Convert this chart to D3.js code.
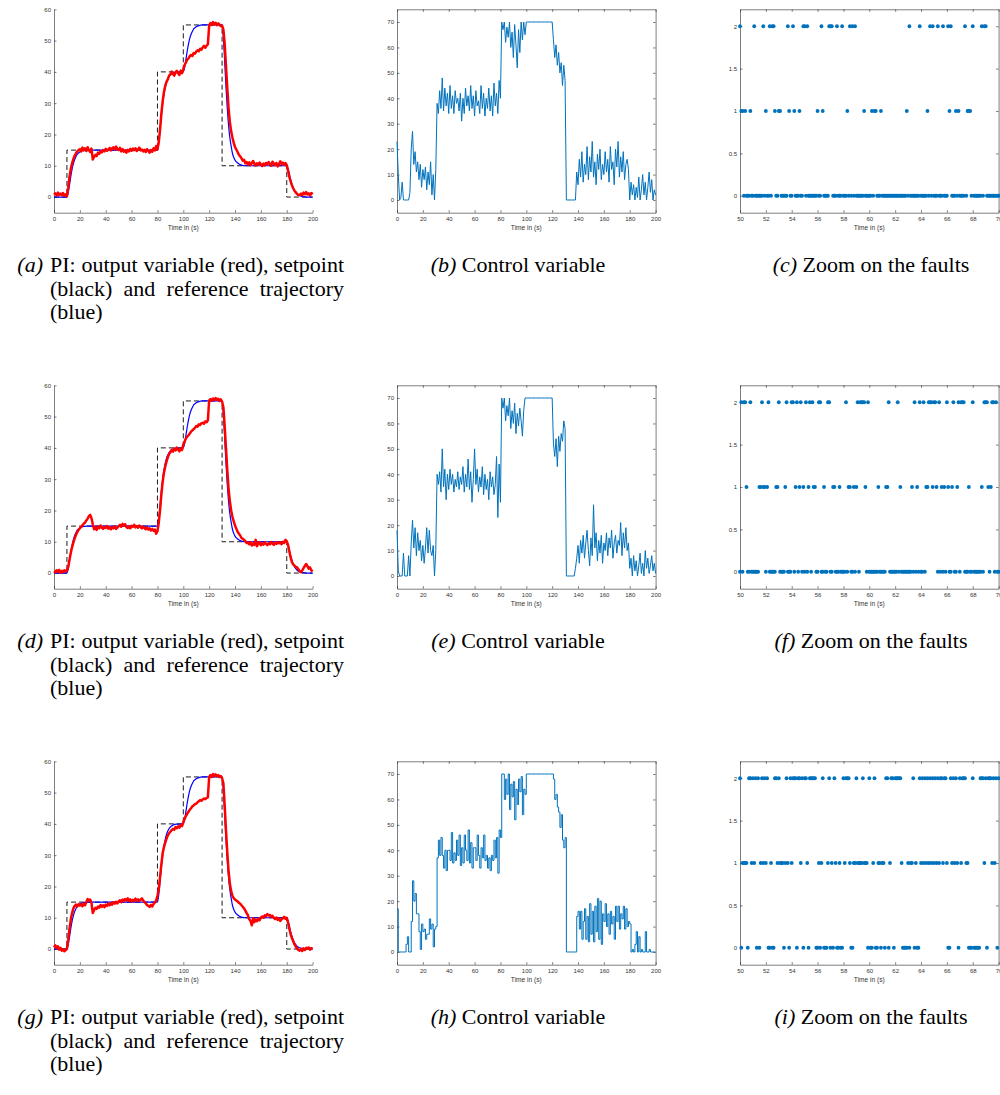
<!DOCTYPE html>
<html>
<head>
<meta charset="utf-8">
<script src="https://cdn.jsdelivr.net/npm/d3@7"></script>
<style>
  body { margin: 0; background: #fff; }
  svg { display: block; }
  .tick text { font-family: "Liberation Sans", Arial, sans-serif; font-size: 6px; fill: #333; }
  .tick line, .domain { stroke: #262626; stroke-width: 0.6; }
</style>
</head>
<body>
<div id="container"></div>
<script>
// setpoint (black dashed), held from each time to the next
const setpointTimes = [0, 10, 80, 100, 130, 180, 200];
const setpointValues = [0, 15, 40, 55, 10, 0, 0];

// reference trajectory (blue)
const refTimes = [0, 10, 11, 12, 13, 14, 15, 16, 17, 18, 19, 20, 22, 25, 80,
  81, 82, 83, 84, 85, 86, 87, 88, 89, 90, 92, 95, 100,
  101, 102, 103, 104, 105, 106, 107, 108, 109, 110, 112, 115, 130,
  131, 132, 133, 134, 135, 136, 137, 138, 139, 140, 142, 145, 148, 180,
  181, 182, 183, 184, 185, 186, 187, 188, 189, 190, 192, 195, 200];
const refValues = [0, 0, 1.4, 3.9, 6.6, 8.9, 10.7, 12.0, 12.9, 13.7, 14.1, 14.4, 14.8, 15, 15,
  17.3, 21.5, 26, 29.8, 32.8, 35, 36.6, 37.7, 38.5, 39, 39.6, 39.9, 40,
  41.4, 43.9, 46.6, 48.9, 50.7, 52, 52.9, 53.7, 54.1, 54.4, 54.8, 55, 55,
  51, 43.3, 35.2, 28.5, 23, 19, 16.3, 14, 12.7, 11.8, 10.9, 10.2, 10, 10,
  9.1, 7.4, 5.6, 4.1, 2.9, 2, 1.4, 0.9, 0.6, 0.4, 0.2, 0, 0];

// output variable (red), one sample per second, t = 0..200
const outputA = [
  0.8, 1.2, 0.5, 1.4, 0.7, 1.1, 0.6, 1.3, 0.4, 0.9,
  0.3, 3.0, 6.5, 9.0, 10.8, 12.2, 13.2, 14.0, 14.6, 15.0,
  15.3, 14.6, 15.8, 14.9, 15.6, 14.7, 15.9, 15.0, 14.4, 15.5,
  12.0, 12.8, 13.5, 13.1, 14.2, 13.8, 14.6, 14.3, 15.0, 14.6,
  15.4, 14.8, 15.2, 15.7, 14.9, 15.6, 15.9, 15.2, 16.1, 15.4,
  15.0, 15.7, 14.6, 15.3, 14.5, 14.9, 14.2, 15.1, 14.6, 15.4,
  14.8, 15.5, 15.0, 15.6, 14.7, 15.3, 15.8, 14.9, 15.2, 14.6,
  15.1, 14.4, 15.3, 14.7, 14.2, 15.0, 14.5, 15.6, 14.9, 16.3,
  15.2, 17.5, 21.5, 26.5, 30.5, 33.5, 35.5, 36.8, 37.6, 38.8,
  39.2, 40.1, 39.4, 38.8, 39.9, 40.3, 39.5, 39.0, 40.4, 39.6,
  40.8, 42.2, 43.0, 43.9, 44.3, 45.0, 45.4, 45.1, 46.0, 45.8,
  46.5, 46.9, 46.6, 47.4, 47.1, 47.8, 48.3, 47.7, 48.4, 48.8,
  54.8, 55.6, 55.0, 55.9, 55.2, 55.7, 54.9, 55.5, 55.1, 54.6,
  54.8, 53.5, 49.0, 42.0, 35.0, 28.5, 24.0, 21.0, 19.0, 17.3,
  16.0, 15.2, 14.4, 13.5, 13.0, 12.4, 11.6, 11.9, 10.8, 11.2,
  10.4, 11.1, 10.2, 10.9, 11.5, 10.6, 10.1, 10.8, 10.3, 11.0,
  10.5, 9.9, 10.7, 10.2, 10.9, 10.4, 11.2, 10.6, 10.0, 11.3,
  10.7, 10.2, 10.9, 9.8, 10.5, 11.4, 10.6, 11.0, 10.3, 10.9,
  10.2, 8.5, 6.5, 5.0, 3.8, 2.8, 2.0, 1.5, 1.0, 0.6,
  0.7, 1.1, 0.6, 1.4, 0.9, 1.6, 0.8, 1.2, 0.5, 1.3,
  0.9];
const outputD = [
  0.6, 0.2, 0.9, 0.4, 1.0, 0.1, 0.7, 0.3, 0.9, 0.5,
  0.8, 2.0, 4.3, 6.5, 8.3, 9.8, 11.1, 12.2, 13.1, 13.8,
  14.3, 14.8, 15.2, 15.8, 16.1, 16.8, 17.4, 18.2, 18.6, 17.5,
  15.6, 14.0, 14.6, 13.8, 14.9, 14.3, 15.2, 14.5, 14.1, 14.8,
  14.4, 15.0, 14.2, 14.7, 14.0, 14.6, 14.3, 14.9, 14.1, 14.5,
  15.0, 15.4, 14.8, 15.7, 15.2, 15.6, 14.7, 14.4, 14.9, 14.3,
  15.1, 14.8, 15.4, 14.6, 15.0, 14.5, 15.2, 14.7, 14.3, 14.9,
  14.4, 14.0, 14.6, 13.9, 14.3, 13.6, 14.1, 13.5, 13.9, 12.6,
  13.4, 16.0, 20.0, 25.0, 29.0, 32.0, 34.0, 35.6, 37.0, 38.0,
  38.6, 39.4, 38.8, 39.8, 39.2, 40.1, 39.4, 38.9, 39.8, 39.3,
  41.0, 42.0, 43.0, 43.6, 44.0, 44.6, 45.2, 45.6, 46.0, 46.4,
  47.0, 46.8, 47.5, 47.3, 47.9, 48.0, 47.7, 48.5, 48.2, 48.8,
  55.2, 55.6, 55.1, 55.8, 55.3, 55.9, 55.4, 55.7, 55.0, 55.5,
  54.8, 53.0, 47.0, 40.0, 33.0, 27.0, 23.0, 20.0, 18.0, 16.5,
  15.2, 14.2, 13.2, 12.6, 12.0, 11.2, 11.0, 10.6, 10.2, 9.6,
  9.8, 9.2, 9.8, 8.8, 9.5, 9.0, 10.6, 8.6, 9.4, 9.9,
  8.9, 9.5, 9.1, 9.8, 9.3, 8.9, 9.6, 9.2, 9.9, 9.4,
  9.0, 9.7, 9.3, 9.9, 9.5, 9.8, 9.2, 10.0, 9.6, 10.6,
  10.2, 9.0, 7.0, 5.0, 3.5, 2.8, 2.4, 2.0, 1.8, 1.2,
  0.6, 0.3, 0.8, 1.6, 2.3, 2.9, 2.2, 1.4, 1.8, 0.9,
  0.5];
const outputG = [
  0.5, 1.2, 0.3, 0.9, -0.2, 0.4, -0.5, -0.1, -0.7, -0.3,
  0.1, 3.0, 6.5, 9.5, 11.5, 13.0, 13.8, 14.2, 13.6, 14.4,
  13.9, 14.3, 13.7, 14.5, 14.0, 15.0, 16.0, 15.5, 15.8, 14.7,
  11.5, 12.5, 13.2, 12.8, 13.6, 13.2, 14.1, 13.5, 14.0, 13.4,
  14.2, 13.8, 14.5, 14.0, 14.7, 14.2, 14.9, 14.5, 15.1, 14.6,
  15.2, 15.6, 15.0, 15.8, 15.3, 16.0, 15.5, 16.2, 15.4, 15.9,
  15.2, 15.7, 15.3, 16.1, 15.5, 15.9, 15.4, 15.8, 16.2, 15.5,
  15.0, 14.6, 14.0, 13.8, 13.5, 14.1, 13.6, 14.4, 14.9, 15.5,
  17.0, 19.0, 23.0, 27.0, 30.5, 32.5, 34.0, 35.2, 36.3, 37.0,
  37.5, 38.0, 38.4, 38.1, 39.0, 38.6, 39.2, 38.8, 39.6, 39.3,
  40.5, 41.6, 42.5, 43.2, 43.9, 44.5, 45.0, 45.6, 45.9, 46.3,
  46.5, 46.9, 47.2, 47.6, 47.4, 47.8, 48.1, 47.9, 48.3, 48.5,
  55.0, 55.6, 55.0, 55.9, 55.4, 55.8, 55.2, 55.6, 55.0, 55.3,
  54.6, 53.0, 46.0, 38.0, 31.0, 25.0, 21.0, 18.5, 17.0, 16.3,
  15.8, 15.5, 15.2, 14.8, 14.5, 14.0, 13.5, 13.0, 12.3, 11.5,
  10.8, 9.5, 9.0, 7.6, 9.8, 8.6, 9.4, 8.9, 9.7, 9.2,
  10.1, 10.4, 10.0, 10.8, 10.5, 11.2, 10.7, 10.9, 10.3, 10.6,
  10.0, 9.6, 10.1, 9.3, 9.8, 9.0, 9.5, 9.9, 10.3, 9.7,
  10.0, 8.5, 6.5, 4.8, 3.5, 2.5, 1.5, 0.8, 0.2, -0.3,
  -0.5, 0.0, -0.6, 0.2, -0.3, 0.4, 0.1, 0.5, -0.2, 0.3,
  0.2];

// control variable, one sample per second, t = 0..200
const controlB = [
  23, 10, 0, 1, 7, 0, 0, 0, 0, 0,
  3, 20, 27, 14, 19, 11, 15, 8, 14, 5,
  12, 8, 13, 4, 11, 6, 15, 2, 10, 0,
  12, 38, 34, 43, 36, 48, 35, 44, 37, 42,
  34, 45, 36, 41, 34, 43, 38, 40, 35, 42,
  31, 40, 34, 44, 37, 41, 35, 45, 36, 41,
  33, 43, 37, 39, 34, 45, 36, 42, 33, 40,
  36, 44, 35, 41, 33, 46, 37, 42, 34, 47,
  40, 70, 67, 70, 62, 68, 64, 70, 60, 66,
  56, 69, 61, 52, 67, 58, 70, 63, 70, 65,
  70, 70, 70, 70, 70, 70, 70, 70, 70, 70,
  70, 70, 70, 70, 70, 70, 70, 70, 70, 70,
  70, 63, 56, 61, 53, 58, 50, 54, 45, 53,
  47, 0, 0, 0, 0, 0, 0, 0, 0, 11,
  6, 16, 9, 19, 7, 14, 10, 21, 8, 17,
  11, 23, 9, 15, 6, 18, 12, 20, 8, 14,
  10, 19, 11, 16, 7, 21, 12, 15, 6, 20,
  13, 23, 9, 17, 11, 19, 8, 14, 16, 12,
  0, 7, 2, 6, 0, 5, 1, 9, 0, 4,
  10, 2, 7, 0, 5, 11, 3, 8, 0, 4,
  2];
const controlE = [
  18, 2, 0, 0, 0, 9, 0, 0, 0, 8,
  0, 13, 22, 11, 19, 8, 17, 10, 14, 6,
  12, 5, 11, 19, 9, 18, 10, 8, 12, 0,
  10, 40, 36, 41, 33, 50, 35, 42, 30, 40,
  34, 42, 36, 40, 33, 38, 35, 41, 34, 39,
  36, 43, 33, 40, 35, 46, 34, 41, 29, 38,
  50, 36, 42, 33, 39, 35, 43, 32, 40, 34,
  38, 30, 41, 35, 39, 32, 36, 47, 23, 44,
  29, 70, 66, 70, 61, 67, 63, 70, 58, 65,
  60, 68, 56, 64, 59, 66, 61, 55, 65, 70,
  70, 70, 70, 70, 70, 70, 70, 70, 70, 70,
  70, 70, 70, 70, 70, 70, 70, 70, 70, 70,
  70, 52, 47, 54, 43, 55, 49, 56, 53, 61,
  58, 0, 0, 0, 0, 0, 0, 0, 3, 7,
  12, 5, 14, 9, 16, 7, 13, 18, 10, 4,
  15, 8, 28, 11, 17, 6, 14, 9, 16, 5,
  13, 10, 17, 8, 15, 11, 18, 7, 13, 16,
  9, 14, 12, 21, 8, 17, 11, 19, 10, 13,
  3, 7, 0, 8, 2, 6, 0, 4, 9, 1,
  5, 0, 10, 3, 7, 1, 4, 8, 2, 5,
  1];
const controlH = [
  17, 0, 0, 0, 0, 0, 0, 3, 6, 0,
  0, 12, 28, 20, 23, 15, 15, 8, 1, 11,
  8, 9, 5, 7, 7, 13, 9, 11, 2, 9,
  10, 37, 44, 38, 45, 38, 33, 40, 32, 40,
  40, 36, 47, 35, 39, 36, 44, 38, 46, 34,
  41, 35, 46, 40, 36, 48, 35, 43, 33, 41,
  41, 36, 46, 38, 33, 41, 37, 46, 36, 38,
  33, 37, 32, 38, 36, 44, 37, 45, 31, 48,
  45, 70, 70, 60, 68, 62, 70, 56, 66, 61,
  67, 52, 64, 58, 68, 63, 69, 54, 64, 62,
  70, 70, 70, 70, 70, 70, 70, 70, 70, 70,
  70, 70, 70, 70, 70, 70, 70, 70, 70, 70,
  70, 68, 60, 62, 57, 55, 49, 54, 44, 41,
  45, 0, 0, 0, 0, 0, 0, 0, 0, 14,
  16, 9, 16, 5, 12, 17, 5, 14, 4, 19,
  7, 16, 4, 18, 8, 21, 5, 20, 3, 15,
  12, 19, 10, 15, 7, 16, 11, 14, 5, 18,
  12, 18, 9, 15, 13, 18, 9, 17, 10, 12,
  11, 0, 1, 0, 3, 8, 0, 6, 0, 1,
  0, 0, 8, 0, 0, 1, 0, 0, 0, 0,
  0];

// fault state per 0.1 s sample, t = 50.0..70.0 (one digit per sample)
const faultsC = ["2110100010", "0200000020", "1002022100", "1100000210", "0210001002",
  "2020000000", "1002100002", "2200020002", "0001020202", "0000001000",
  "0010110001", "0000000000", "0000000001", "0200000002", "0000010202",
  "0002000200", "0212000101", "0000201110", "2000000202", "20000000000"].join("");
const faultsF = ["0202210020", "0000011211", "0120000011", "2000012000", "2201201201",
  "0201202110", "0220010022", "0011000100", "0020110010", "1202222102",
  "0000000100", "0001120000", "0020100000", "0001020102", "0020112221",
  "2210201010", "2100120012", "0222000100", "2000000102", "22101220200"].join("");
const faultsI = ["2011110221", "2120201212", "1200100221", "2111012102", "1222022120",
  "2210222220", "0101200012", "0102100100", "2122210011", "2111121110",
  "2001200110", "1102201220", "2222210000", "1011201002", "1212121212",
  "1212122122", "1002121210", "2122211000", "2000002221", "20222121202"].join("");

const outputTicks = [0, 10, 20, 30, 40, 50, 60];
const controlTicks = [0, 10, 20, 30, 40, 50, 60, 70];
const faultTicks = [0, 0.5, 1, 1.5, 2];
const timeTicks = [0, 20, 40, 60, 80, 100, 120, 140, 160, 180, 200];
const zoomTicks = [50, 52, 54, 56, 58, 60, 62, 64, 66, 68, 70];

const captionLines = ["PI: output variable (red), setpoint", "(black) and reference trajectory", "(blue)"];
const rows = [
  { output: outputA, control: controlB, stairs: false, faults: faultsC, letters: ["a", "b", "c"] },
  { output: outputD, control: controlE, stairs: false, faults: faultsF, letters: ["d", "e", "f"] },
  { output: outputG, control: controlH, stairs: true, faults: faultsI, letters: ["g", "h", "i"] },
];

const W = 1000, H = 1095;
const colX = [54, 397, 740];
const plotW = 258.6, plotH = 203.4;
const rowTop = 9.3, rowPitch = 376;
const sampleStep = 1, faultStart = 50, faultStep = 0.1;
const tickLen = 2.5;
const capFont = "Liberation Serif, Times New Roman, serif";
const capSize = "22px";

const svg = d3.select("#container").append("svg").attr("width", W).attr("height", H);

function axes(g, x, y, yTicks, xTicks, box, yFormat) {
  g.append("g")
    .attr("transform", "translate(0," + plotH + ")")
    .call(d3.axisBottom(x).tickValues(xTicks).tickSizeInner(-tickLen).tickSizeOuter(0).tickPadding(4.5));
  g.append("g")
    .call(d3.axisLeft(y).tickValues(yTicks).tickSizeInner(-tickLen).tickSizeOuter(0).tickPadding(3)
      .tickFormat(yFormat || d3.format("d")));
  if (box) {
    g.append("g")
      .call(d3.axisTop(x).tickValues(xTicks).tickSizeInner(-tickLen).tickSizeOuter(0).tickFormat(""));
    g.append("g")
      .attr("transform", "translate(" + plotW + ",0)")
      .call(d3.axisRight(y).tickValues(yTicks).tickSizeInner(-tickLen).tickSizeOuter(0).tickFormat(""));
  }
  g.append("text")
    .attr("x", plotW / 2)
    .attr("y", plotH + 17.5)
    .attr("text-anchor", "middle")
    .style("font-family", "Liberation Sans, Arial, sans-serif")
    .style("font-size", "6.6px")
    .style("fill", "#333")
    .text("Time in (s)");
}

function drawOutput(g, output) {
  const x = d3.scaleLinear().domain([0, 200]).range([0, plotW]);
  const y = d3.scaleLinear().domain([-5, 60]).range([plotH, 0]);
  axes(g, x, y, outputTicks, timeTicks, false);

  const sp = setpointTimes.map((t, i) => [t, setpointValues[i]]);
  g.append("path")
    .datum(sp)
    .attr("fill", "none")
    .attr("stroke", "#1a1a1a")
    .attr("stroke-width", 1)
    .attr("stroke-dasharray", "5,3")
    .attr("d", d3.line().x((d) => x(d[0])).y((d) => y(d[1])).curve(d3.curveStepAfter));

  const ref = refTimes.map((t, i) => [t, refValues[i]]);
  g.append("path")
    .datum(ref)
    .attr("fill", "none")
    .attr("stroke", "#0000ff")
    .attr("stroke-width", 1.2)
    .attr("d", d3.line().x((d) => x(d[0])).y((d) => y(d[1])).curve(d3.curveMonotoneX));

  g.append("path")
    .datum(output)
    .attr("fill", "none")
    .attr("stroke", "#ff0000")
    .attr("stroke-width", 2.5)
    .attr("stroke-linejoin", "round")
    .attr("d", d3.line().x((d, i) => x(i * sampleStep)).y((d) => y(d)));
}

function drawControl(g, control, stairs) {
  const x = d3.scaleLinear().domain([0, 200]).range([0, plotW]);
  const y = d3.scaleLinear().domain([-5, 75]).range([plotH, 0]);
  axes(g, x, y, controlTicks, timeTicks, true);
  g.append("path")
    .datum(control)
    .attr("fill", "none")
    .attr("stroke", "#0072bd")
    .attr("stroke-width", 1)
    .attr("d", d3.line().x((d, i) => x(i * sampleStep)).y((d) => y(d))
      .curve(stairs ? d3.curveStepAfter : d3.curveLinear));
}

function drawFaults(g, faults) {
  const x = d3.scaleLinear().domain([50, 70]).range([0, plotW]);
  const y = d3.scaleLinear().domain([-0.2, 2.2]).range([plotH, 0]);
  axes(g, x, y, faultTicks, zoomTicks, true, d3.format("~g"));
  const pts = faults.split("").map((c, i) => ({ t: faultStart + i * faultStep, v: +c }));
  g.selectAll("circle.f")
    .data(pts)
    .enter()
    .append("circle")
    .attr("class", "f")
    .attr("cx", (d) => x(d.t))
    .attr("cy", (d) => y(d.v))
    .attr("r", 1.9)
    .attr("fill", "#0072bd");
}

// caption text, justified between x0 and x1
function justified(g, text, x0, x1, y, stretch) {
  const words = text.split(" ");
  const nodes = words.map((w) =>
    g.append("text").attr("y", y).style("font-family", capFont).style("font-size", capSize).text(w));
  const widths = nodes.map((n) => n.node().getComputedTextLength());
  const total = d3.sum(widths);
  const gap = stretch && words.length > 1 ? (x1 - x0 - total) / (words.length - 1) : 5.5;
  let cx = x0;
  nodes.forEach((n, i) => {
    n.attr("x", cx);
    cx += widths[i] + gap;
  });
}

function centredCaption(g, letter, label, cx, y) {
  const t = g.append("text")
    .attr("x", cx)
    .attr("y", y)
    .attr("text-anchor", "middle")
    .style("font-family", capFont)
    .style("font-size", capSize);
  t.append("tspan").style("font-style", "italic").text("(" + letter + ")");
  t.append("tspan").text(" " + label);
}

rows.forEach((row, r) => {
  const top = rowTop + r * rowPitch;
  drawOutput(svg.append("g").attr("transform", "translate(" + colX[0] + "," + top + ")"), row.output);
  drawControl(svg.append("g").attr("transform", "translate(" + colX[1] + "," + top + ")"), row.control, row.stairs);
  drawFaults(svg.append("g").attr("transform", "translate(" + colX[2] + "," + top + ")"), row.faults);

  const cap = svg.append("g");
  const base = 272 + r * rowPitch;
  cap.append("text")
    .attr("x", 43)
    .attr("y", base)
    .attr("text-anchor", "end")
    .style("font-family", capFont)
    .style("font-size", capSize)
    .style("font-style", "italic")
    .text("(" + row.letters[0] + ")");
  captionLines.forEach((line, k) => {
    justified(cap, line, 50, 344, base + k * 23.6, k < 2);
  });
  centredCaption(cap, row.letters[1], "Control variable", 518, base);
  centredCaption(cap, row.letters[2], "Zoom on the faults", 871, base);
});
</script>
</body>
</html>
